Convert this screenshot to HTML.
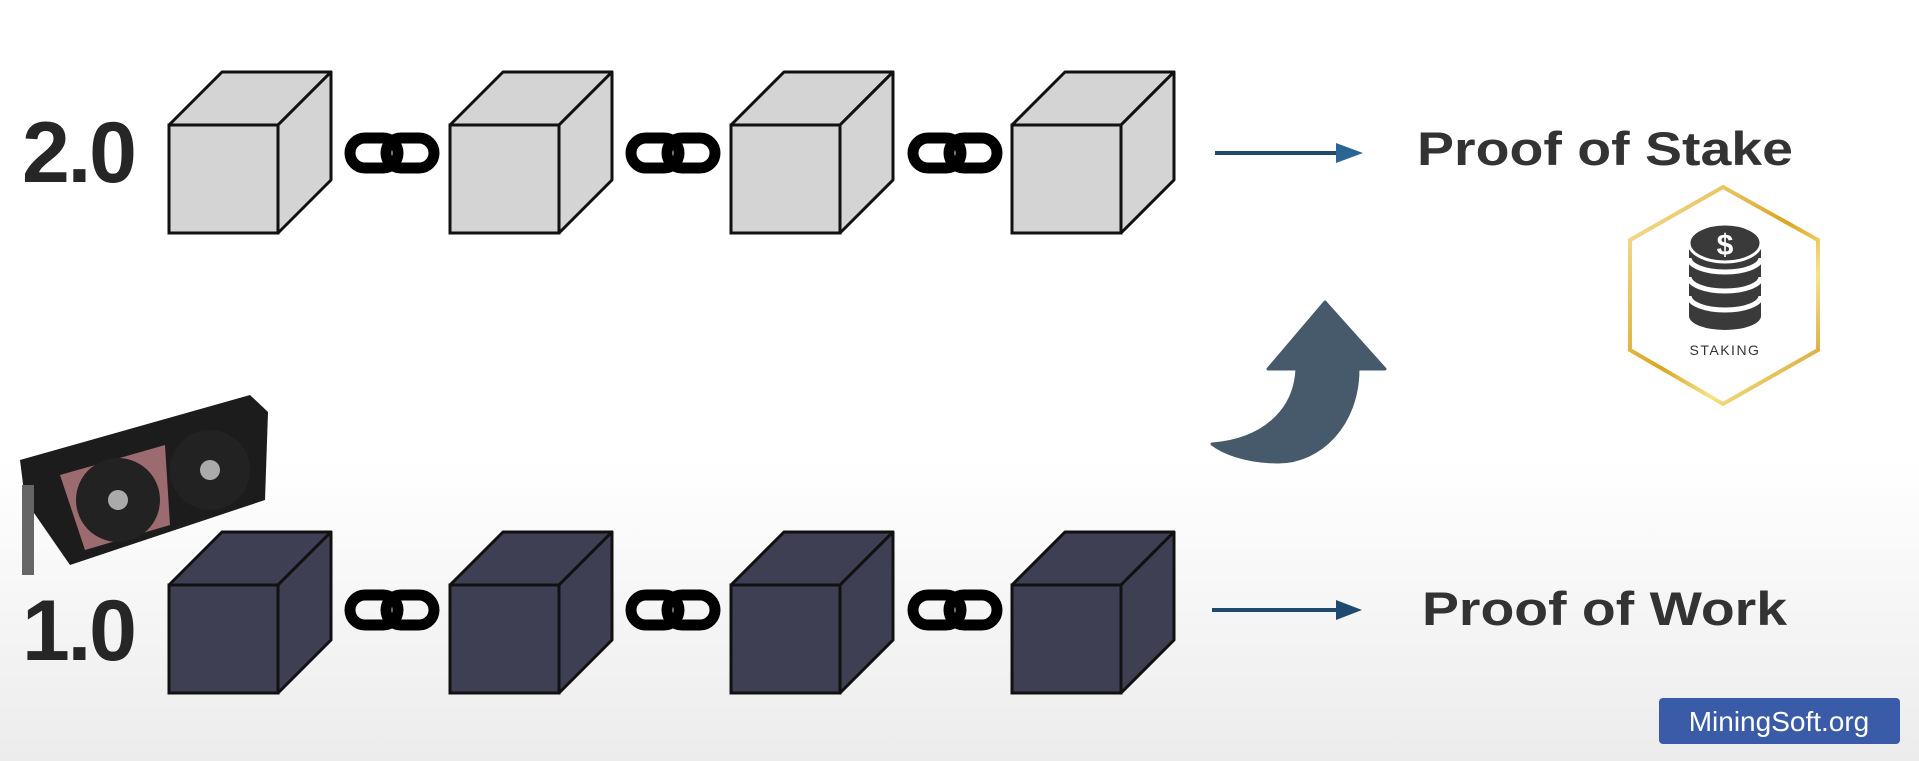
<!DOCTYPE html>
<html><head><meta charset="utf-8"><style>
html,body{margin:0;padding:0;width:1919px;height:761px;overflow:hidden}
body{background:linear-gradient(#fff 0px,#fff 460px,#ececec 761px);font-family:"Liberation Sans",sans-serif}
svg{position:absolute;left:0;top:0}
</style></head><body>
<svg width="1919" height="761" viewBox="0 0 1919 761">
<defs>
<g id="cube">
<path d="M0,0 L53,-53 L162,-53 L109,0 Z" stroke="#111" stroke-width="3" stroke-linejoin="round"/>
<path d="M109,0 L162,-53 L162,55 L109,108 Z" stroke="#111" stroke-width="3" stroke-linejoin="round"/>
<rect x="0" y="0" width="109" height="108" stroke="#111" stroke-width="3"/>
</g>
<g id="link">
<rect x="-42" y="-15" width="48" height="30" rx="15" fill="none" stroke="#000" stroke-width="11"/>
<rect x="-6" y="-15" width="48" height="30" rx="15" fill="none" stroke="#000" stroke-width="11"/>
</g>
<linearGradient id="gold" x1="0" y1="0" x2="1" y2="1">
<stop offset="0" stop-color="#f7e6a8"/><stop offset="0.5" stop-color="#d9a521"/><stop offset="0.7" stop-color="#f6e38a"/><stop offset="1" stop-color="#c8901a"/>
</linearGradient>
</defs>

<text x="22" y="182" font-size="86" font-weight="bold" fill="#262626" textLength="115">2.0</text>
<text x="22" y="660" font-size="86" font-weight="bold" fill="#262626" textLength="115">1.0</text>

<g fill="#d4d4d4">
<use href="#cube" x="169" y="125"/>
<use href="#cube" x="450" y="125"/>
<use href="#cube" x="731" y="125"/>
<use href="#cube" x="1012" y="125"/>
<use href="#link" x="392" y="153"/>
<use href="#link" x="673" y="153"/>
<use href="#link" x="955" y="153"/>
</g>
<g fill="#3e3f52">
<use href="#cube" x="169" y="585"/>
<use href="#cube" x="450" y="585"/>
<use href="#cube" x="731" y="585"/>
<use href="#cube" x="1012" y="585"/>
<use href="#link" x="392" y="610"/>
<use href="#link" x="673" y="610"/>
<use href="#link" x="955" y="610"/>
</g>

<g>
<line x1="1215" y1="153" x2="1340" y2="153" stroke="#1f4a70" stroke-width="4"/>
<path d="M1336,143 L1363,153 L1336,163 Z" fill="#2a6595"/>
</g>
<g>
<line x1="1212" y1="610" x2="1340" y2="610" stroke="#1f4a70" stroke-width="4"/>
<path d="M1336,600 L1362,610 L1336,620 Z" fill="#1f4a70"/>
</g>

<text x="1417" y="165" font-size="47" font-weight="bold" fill="#333" textLength="376" lengthAdjust="spacingAndGlyphs">Proof of Stake</text>
<text x="1422" y="625" font-size="47" font-weight="bold" fill="#333" textLength="365" lengthAdjust="spacingAndGlyphs">Proof of Work</text>

<path d="M1268,369 L1325,302 L1385,369 L1358,369 C1358,425 1320,462 1278,462 C1245,462 1222,452 1212,444 C1262,440 1295,412 1297,369 Z" fill="#475a6b" stroke="#475a6b" stroke-width="3" stroke-linejoin="round"/>

<g>
<polygon points="1723,187 1818,240 1818,350 1723,404 1630,350 1630,240" fill="#fff" stroke="url(#gold)" stroke-width="4"/>
<path d="M1689,240 L1761,240 L1761,316 A36,14 0 0 1 1689,316 Z" fill="#3a3a3a"/>
<path d="M1689,258 A36,14 0 0 0 1761,258 M1689,277 A36,14 0 0 0 1761,277 M1689,296 A36,14 0 0 0 1761,296" fill="none" stroke="#fff" stroke-width="5"/>
<ellipse cx="1725" cy="243" rx="36" ry="19" fill="#3a3a3a" stroke="#fff" stroke-width="3"/>
<text x="1725" y="255" font-size="30" font-weight="bold" fill="#fff" text-anchor="middle">$</text>
<text x="1725" y="355" font-size="14" fill="#333" text-anchor="middle" letter-spacing="1.5">STAKING</text>
</g>

<g>
<polygon points="20,460 250,395 268,412 265,500 70,565 25,500" fill="#1c1c1c"/>
<polygon points="60,475 165,445 170,525 85,550" fill="#9b6b70"/>
<circle cx="118" cy="500" r="42" fill="#222"/><circle cx="118" cy="500" r="10" fill="#aaa"/>
<circle cx="210" cy="470" r="40" fill="#222"/><circle cx="210" cy="470" r="10" fill="#aaa"/>
<rect x="22" y="485" width="12" height="90" fill="#666"/>
</g>

<g>
<rect x="1659" y="698" width="241" height="46" rx="4" fill="#3a5ba8"/>
<text x="1779" y="731" font-size="28" fill="#fff" text-anchor="middle">MiningSoft.org</text>
</g>
</svg>
</body></html>
